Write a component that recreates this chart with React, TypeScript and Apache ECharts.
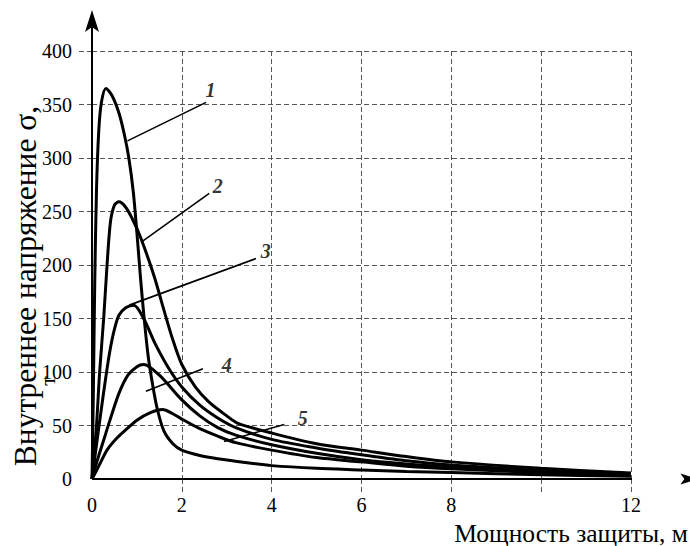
import { useEffect, useRef } from "react";
import * as echarts from "echarts";

const FONT = "Liberation Serif, Times New Roman, DejaVu Serif, serif";

// axis ticks / labels
const xMin = 0;
const xMax = 12;
const xInterval = 2;
const xTickValues = [2, 4, 6, 8, 10, 12];
const xLabelValues = [0, 2, 4, 6, 8, 12];
const yMin = 0;
const yMax = 400;
const yInterval = 50;
const yTickValues = [50, 100, 150, 200, 250, 300, 350, 400];
const yLabelValues = [0, 50, 100, 150, 200, 250, 300, 350, 400];

// arrow ends of the axes (data units, beyond the grid)
const xAxisEnd = 13.3;
const yAxisEnd = 428;

// curves
const curve1X = [0, 0.03, 0.06, 0.1, 0.15, 0.21, 0.31, 0.45, 0.6, 0.72, 0.82, 0.92, 1.0, 1.08, 1.15, 1.25, 1.35, 1.45, 1.6, 1.8, 2.0, 2.4, 2.8, 3.5, 4, 5, 6, 7, 8, 10, 12];
const curve1Y = [0, 80, 180, 270, 325, 352, 365, 358, 342, 322, 300, 268, 230, 188, 155, 115, 88, 66, 45, 33, 27, 22, 19, 15, 12.5, 10, 8.5, 7, 6, 4, 2.5];

const curve2X = [0, 0.1, 0.17, 0.26, 0.335, 0.41, 0.5, 0.6, 0.75, 0.9, 1.08, 1.38, 1.6, 1.8, 2.0, 2.3, 2.6, 3.0, 3.25, 4, 5, 6, 7, 8, 10, 12];
const curve2Y = [0, 50, 100, 150, 200, 240, 256, 259, 254, 243, 226, 190, 158, 130, 107, 86, 72, 59, 52, 43, 33, 27, 21, 16, 10, 5.5];

const curve3X = [0, 0.1, 0.2, 0.3, 0.4, 0.5, 0.6, 0.75, 0.93, 1.15, 1.4, 1.7, 2.0, 2.4, 2.8, 3.2, 4, 5, 6, 7, 8, 10, 12];
const curve3Y = [0, 32, 63, 93, 120, 140, 153, 160, 162.5, 150, 127, 104, 86, 69, 57, 48, 37, 29, 22.6, 17, 13, 8, 4.5];

const curve4X = [0, 0.1, 0.25, 0.4, 0.6, 0.8, 1.0, 1.15, 1.5, 2.0, 2.4, 2.8, 3.2, 4, 5, 6, 7, 8, 10, 12];
const curve4Y = [0, 15, 35, 55, 80, 97, 105, 107, 97, 74, 59, 48, 41, 32, 24, 18, 14, 11, 7, 4];

const curve5X = [0, 0.15, 0.335, 0.55, 0.78, 1.0, 1.3, 1.57, 1.8, 2.0, 2.4, 2.8, 3.2, 4, 5, 6, 7, 8, 10, 12];
const curve5Y = [0, 12, 27, 38, 47, 55, 62, 65, 61, 56, 47, 40, 34, 27, 20, 16, 12, 9.5, 6, 3];

const curveNames = ["1", "2", "3", "4", "5"];
const curvesX = [curve1X, curve2X, curve3X, curve4X, curve5X];
const curvesY = [curve1Y, curve2Y, curve3Y, curve4Y, curve5Y];

// leader lines and curve numbers (data units)
const leaderStarts = [
  [2.54, 352],
  [2.61, 267],
  [3.65, 206],
  [2.47, 103],
  [4.28, 51],
];
const leaderEnds = [
  [0.79, 316],
  [1.12, 222],
  [0.83, 162.5],
  [1.2, 82],
  [2.94, 35],
];
const numberPositions = [
  [2.64, 364],
  [2.8, 274],
  [3.87, 213],
  [3.0, 107],
  [4.69, 57],
];

const xTitle = "Мощность защиты, м";
const yTitle = "Внутреннее напряжение σ,";
const yTitleCut = "т";

const ARROW_RIGHT = "path://M0,0 L18,5.5 L0,11 L4,5.5 Z";
const ARROW_UP = "path://M7,0 L14,22 L7,17 L0,22 Z";

const gridLine = { color: "#555", width: 1, type: [5, 3] as number[] };

export default function App() {
  const ref = useRef<HTMLDivElement>(null);

  useEffect(() => {
    if (!ref.current) return;
    const chart = echarts.init(ref.current, null, { renderer: "svg" });

    const curveSeries = curvesX.map((xs, i) => ({
      type: "line",
      name: curveNames[i],
      data: xs.map((x, j) => [x, curvesY[i][j]]),
      smooth: 0.3,
      symbol: "none",
      lineStyle: { color: "#000", width: 3 },
      z: 5,
      silent: true,
    }));

    const option: any = {
      animation: false,
      backgroundColor: "#fff",
      textStyle: { fontFamily: FONT },
      grid: { left: 92, right: 59, top: 51, bottom: 67 },
      xAxis: {
        type: "value",
        min: xMin,
        max: xMax,
        interval: xInterval,
        axisLine: { show: false },
        axisTick: {
          show: true,
          customValues: xTickValues,
          length: 14,
          inside: false,
          lineStyle: gridLine,
        },
        axisLabel: {
          customValues: xLabelValues,
          color: "#000",
          fontSize: 20,
          fontFamily: FONT,
          margin: 16,
        },
        splitLine: { show: true, lineStyle: gridLine },
      },
      yAxis: {
        type: "value",
        min: yMin,
        max: yMax,
        interval: yInterval,
        axisLine: { show: false },
        axisTick: {
          show: true,
          customValues: yTickValues,
          length: 14,
          inside: false,
          lineStyle: gridLine,
        },
        axisLabel: {
          customValues: yLabelValues,
          color: "#000",
          fontSize: 20,
          fontFamily: FONT,
          margin: 20,
        },
        splitLine: { show: true, lineStyle: gridLine },
      },
      series: [
        ...curveSeries,
        {
          type: "line",
          data: [
            { value: [0, 0], symbol: "none" },
            { value: [xAxisEnd, 0] },
          ],
          symbol: ARROW_RIGHT,
          symbolSize: [18, 11],
          showSymbol: true,
          clip: false,
          itemStyle: { color: "#000", borderWidth: 0 },
          lineStyle: { color: "#000", width: 2 },
          z: 6,
          silent: true,
        },
        {
          type: "line",
          data: [
            { value: [0, 0], symbol: "none" },
            { value: [0, yAxisEnd] },
          ],
          symbol: ARROW_UP,
          symbolSize: [14, 22],
          showSymbol: true,
          clip: false,
          itemStyle: { color: "#000", borderWidth: 0 },
          lineStyle: { color: "#000", width: 2 },
          z: 6,
          silent: true,
        },
        {
          type: "lines",
          coordinateSystem: "cartesian2d",
          data: leaderStarts.map((s, i) => ({ coords: [s, leaderEnds[i]] })),
          lineStyle: { color: "#000", width: 1.6, opacity: 1 },
          symbol: ["none", "none"],
          z: 4,
          silent: true,
        },
        {
          type: "scatter",
          data: numberPositions.map((p, i) => ({ name: curveNames[i], value: p })),
          symbolSize: 1,
          itemStyle: { color: "rgba(0,0,0,0)" },
          label: {
            show: true,
            position: "inside",
            formatter: "{b}",
            color: "#000",
            fontSize: 20,
            fontStyle: "italic",
            fontWeight: "bold",
            fontFamily: FONT,
          },
          z: 7,
          silent: true,
        },
      ],
      graphic: [
        {
          type: "text",
          x: 25,
          y: 286,
          rotation: Math.PI / 2,
          style: {
            text: yTitle,
            fontSize: 31.5,
            fontFamily: FONT,
            fill: "#000",
            align: "center",
            verticalAlign: "middle",
          },
        },
        {
          type: "text",
          x: 47,
          y: 381,
          rotation: Math.PI / 2,
          style: {
            text: yTitleCut,
            fontSize: 22,
            fontFamily: FONT,
            fill: "#000",
            align: "center",
            verticalAlign: "middle",
          },
        },
        {
          type: "text",
          x: 688,
          y: 533,
          style: {
            text: xTitle,
            fontSize: 25.5,
            fontFamily: FONT,
            fill: "#000",
            align: "right",
            verticalAlign: "middle",
          },
        },
      ],
    };

    chart.setOption(option);
    return () => chart.dispose();
  }, []);

  return (
    <div
      ref={ref}
      style={{ position: "absolute", left: 0, top: 0, width: 690, height: 546, background: "#fff" }}
    />
  );
}
